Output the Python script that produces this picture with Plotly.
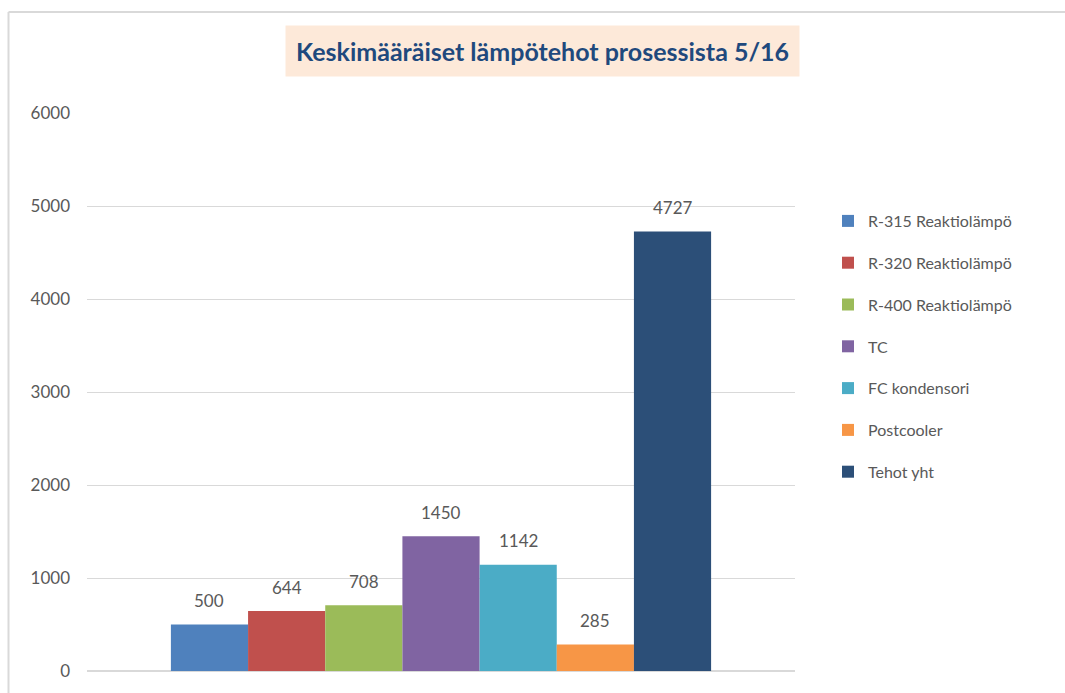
import plotly.graph_objects as go

series_names = ["R-315 Reaktiolämpö", "R-320 Reaktiolämpö", "R-400 Reaktiolämpö",
                "TC", "FC kondensori", "Postcooler", "Tehot yht"]
values = [500, 644, 708, 1450, 1142, 285, 4727]
colors = ["#4F81BD", "#C0504D", "#9BBB59", "#8064A2", "#4BACC6", "#F79646", "#2C4F78"]
category = [""]
title_text = "Keskimääräiset lämpötehot prosessista 5/16"
y_ticks = [0, 1000, 2000, 3000, 4000, 5000, 6000]

FONT = "Lato, Open Sans, sans-serif"
BARGAP = 0.237

fig = go.Figure()
for i, (name, v, c) in enumerate(zip(series_names, values, colors)):
    fig.add_trace(go.Bar(
        x=category, y=[v], name=name, marker=dict(color=c, line=dict(width=0)),
        legendgroup=f"g{i}",
    ))

# data labels placed above each bar of the group
n = len(values)
w = (1 - BARGAP) / n
for i, v in enumerate(values):
    fig.add_annotation(
        x=(i - (n - 1) / 2) * w, y=v, xref="x", yref="y",
        text=str(v), showarrow=False, yanchor="middle", yshift=24,
        font=dict(size=17, color="#595959", family=FONT),
    )

fig.update_layout(
    width=1065, height=693,
    margin=dict(l=87, r=270, t=113, b=22),
    paper_bgcolor="white", plot_bgcolor="white",
    barmode="group", bargap=BARGAP, bargroupgap=0,
    font=dict(family=FONT, size=17, color="#595959"),
    showlegend=True,
    legend=dict(x=(828 - 87) / 708, xanchor="left", y=(671 - 204) / 558, yanchor="top",
                font=dict(size=16, color="#595959", family=FONT),
                tracegroupgap=18, itemwidth=30,
                bgcolor="rgba(0,0,0,0)"),
    xaxis=dict(showticklabels=False, showgrid=False, zeroline=False, showline=False,
               range=[-0.5, 0.5]),
    yaxis=dict(range=[0, 6000], tickvals=y_ticks, showgrid=True, gridcolor="#D9D9D9",
               gridwidth=1, zeroline=True, zerolinecolor="#D9D9D9", showline=False,
               ticks="", ticklabelstandoff=16,
               tickfont=dict(size=17, color="#595959", family=FONT)),
)

fig.add_annotation(
    text=f"<b>{title_text}</b>", xref="paper", yref="paper",
    x=(542 - 87) / 708, y=(671 - 51) / 558, xanchor="center", yanchor="middle",
    showarrow=False, bgcolor="#FDE9D9", borderpad=10,
    font=dict(size=25, color="#1F497D", family=FONT),
)

# chart border (left and top)
fig.add_shape(type="line", xref="paper", yref="paper",
              x0=(8.5 - 87) / 708, x1=(8.5 - 87) / 708, y0=-0.1, y1=(671 - 12) / 558,
              line=dict(color="#D9D9D9", width=2))
fig.add_shape(type="line", xref="paper", yref="paper",
              x0=(8.5 - 87) / 708, x1=1.5, y0=(671 - 12) / 558, y1=(671 - 12) / 558,
              line=dict(color="#D9D9D9", width=2))

fig.write_html("out.html")
